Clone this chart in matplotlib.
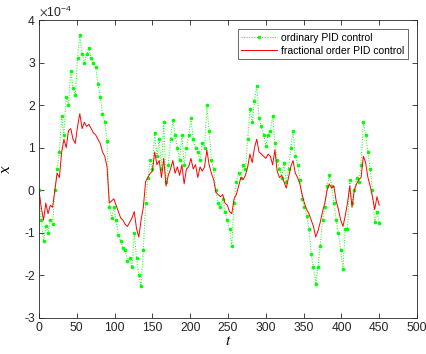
import numpy as np
import matplotlib.pyplot as plt
from matplotlib.ticker import FuncFormatter

plt.rcParams['font.family'] = ['Liberation Sans', 'DejaVu Sans']
plt.rcParams['mathtext.fontset'] = 'stix'

# sample times (every 3 steps) and responses, in units of 1e-4
t = np.arange(0, 451, 3)

pid = [0.0, -0.7, -1.2, -0.85, -1.0, -0.7, -0.8, 0.0, 0.5, 0.9,
       1.75, 1.3, 2.2, 2.0, 2.8, 2.4, 2.25, 3.1, 3.65, 3.2,
       3.0, 3.2, 3.35, 3.1, 3.0, 2.9, 2.5, 2.2, 1.8, 1.6,
       1.15, -0.4, -0.65, -0.4, -0.7, -1.05, -1.2, -1.35, -1.4, -1.65,
       -1.6, -1.8, -1.0, -1.6, -2.0, -2.25, -1.4, -0.3, 0.3, 0.7,
       0.5, 1.35, 0.8, 1.2, 0.5, 1.6, 0.2, 0.6, 1.2, 1.65,
       1.3, 1.0, 0.7, 1.3, 0.6, 1.0, 1.3, 1.7, 1.2, 1.0,
       0.9, 0.7, 1.1, 1.0, 2.0, 1.4, 0.7, 0.5, 0.0, -0.3,
       -0.4, -0.2, -0.5, -0.7, -0.9, -1.3, -0.3, 0.2, 0.4, 0.3,
       0.6, 0.5, 1.2, 1.9, 1.6, 2.1, 2.45, 1.7, 1.5, 1.3,
       1.05, 1.3, 1.4, 1.75, 1.1, 0.7, 0.5, 0.3, 0.65, 0.2,
       0.5, 1.0, 1.4, 0.8, 0.6, 0.25, -0.2, -0.4, -0.6, -0.9,
       -1.5, -1.8, -2.2, -1.8, -1.3, -0.7, -0.4, 0.1, 0.35, 0.1,
       -0.3, -0.7, -1.0, -1.4, -1.85, -0.9, -0.9, 0.25, -0.3, 0.0,
       0.3, 0.2, 0.6, 1.6, 1.3, 0.9, 0.5, 0.0, -0.75, -0.5,
       -0.77]

fopid = [0.0, -0.4, -0.7, -0.3, -0.55, -0.35, -0.4, 0.0, 0.4, 0.3,
         0.9, 1.2, 1.0, 1.4, 1.45, 1.2, 1.1, 1.5, 1.8, 1.45,
         1.6, 1.5, 1.55, 1.45, 1.35, 1.3, 1.2, 1.1, 0.9, 0.8,
         0.55, -0.3, -0.25, -0.2, -0.35, -0.5, -0.65, -0.7, -0.8, -0.85,
         -0.75, -0.65, -0.5, -0.9, -1.1, -0.7, -0.4, 0.2, 0.3, 0.4,
         0.45, 0.9, 0.6, 0.7, 0.3, 0.75, 0.1, 0.35, 0.5, 0.7,
         0.4, 0.55, 0.35, 0.6, 0.15, 0.5, 0.55, 0.75, 0.5, 0.6,
         0.3, 0.55, 0.45, 0.55, 0.95, 0.6, 0.4, 0.25, -0.05, -0.1,
         -0.15, -0.1, -0.3, -0.35, -0.5, -0.55, -0.2, -0.1, 0.1, 0.3,
         0.25, 0.35, 0.55, 0.85, 0.65, 1.0, 1.2, 0.9, 0.85, 0.8,
         0.75, 0.85, 0.8, 0.6, 0.95, 0.45, 0.3, 0.35, 0.2, 0.05,
         0.3, 0.55, 0.7, 0.4, 0.3, 0.15, -0.1, -0.3, -0.45, -0.55,
         -0.7, -0.85, -1.1, -0.95, -0.75, -0.5, -0.3, 0.0, 0.15, 0.05,
         0.1, -0.25, -0.45, -0.7, -0.85, -0.6, -0.3, 0.1, -0.4, 0.0,
         0.15, 0.25, 0.3, 0.8, 0.65, 0.3, 0.1, -0.15, -0.45, -0.15,
         -0.35]

scale = 1e-4

fig = plt.figure(figsize=(4.26, 3.54), dpi=100)
ax = fig.add_axes([0.0915, 0.1017, 0.8875, 0.8418])

ax.plot(t, np.array(pid) * scale, ':', color='#00ff00', marker='.',
        markersize=3.2, linewidth=0.7, label='ordinary PID control')
ax.plot(t, np.array(fopid) * scale, '-', color='#ff0000', linewidth=0.7,
        label='fractional order PID control')

ax.set_xlim(0, 500)
ax.set_ylim(-3e-4, 4e-4)
ax.set_xticks(np.arange(0, 501, 50))
ax.set_yticks(np.arange(-3, 5, 1) * scale)
ax.yaxis.set_major_formatter(FuncFormatter(lambda v, p: '%d' % round(v / scale)))

ax.tick_params(direction='in', top=True, right=True, labelsize=8.7,
               colors='#262626', length=3.5, width=0.6, pad=3)
for s in ax.spines.values():
    s.set_color('#262626')
    s.set_linewidth(0.6)

ax.set_xlabel('$t$', fontsize=11, labelpad=0)
ax.set_ylabel('\u1e8b', family='DejaVu Serif', style='italic', fontsize=10,
              labelpad=8)
ax.text(0.0, 1.005, r'$\times\mathregular{10^{-4}}$', transform=ax.transAxes,
        fontsize=8.7, ha='left', va='bottom', color='#262626')

leg = ax.legend(loc='upper right', fontsize=7.5, frameon=True, fancybox=False,
                edgecolor='#262626', handlelength=3.4, borderaxespad=0.9,
                borderpad=0.35, labelspacing=0.25, handletextpad=0.4)
leg.get_frame().set_linewidth(0.6)

fig.savefig('out.png', dpi=100)
